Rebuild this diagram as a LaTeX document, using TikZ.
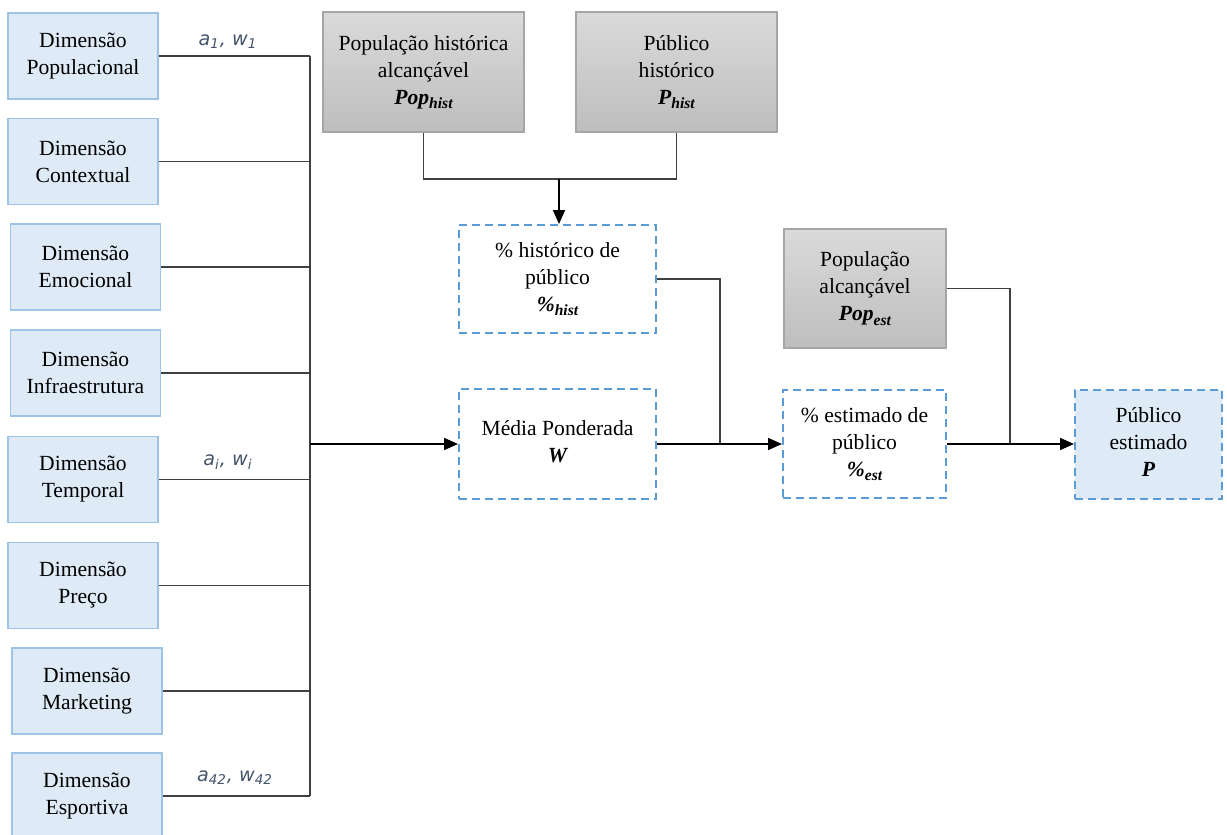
\documentclass[tikz,border=0pt]{standalone}
\usepackage{fontspec}
\setmainfont{Liberation Serif}
\newfontfamily\labelfont{DejaVu Sans}
\usetikzlibrary{arrows.meta}
\definecolor{dimfill}{HTML}{DEEBF7}
\definecolor{dimborder}{HTML}{9DC3E6}
\definecolor{dashblue}{HTML}{5B9BD5}
\definecolor{graytop}{HTML}{DADADA}
\definecolor{graybot}{HTML}{BEBEBE}
\definecolor{grayborder}{HTML}{A6A6A6}
\definecolor{wire}{HTML}{404040}
\definecolor{labelcol}{HTML}{44546A}
\newcommand{\bi}[2]{{\bfseries\itshape #1\raisebox{-0.45ex}{\fontsize{7.8}{8}\selectfont #2}}}
\tikzset{
  txt/.style={align=center, inner sep=0pt, font=\fontsize{10.8}{13.5}\selectfont},
  dimbox/.style={txt, draw=dimborder, line width=0.6pt, fill=dimfill,
                 minimum width=75pt, minimum height=43pt},
  graybox/.style={txt, draw=grayborder, line width=0.6pt, top color=graytop,
                  bottom color=graybot},
  calcbox/.style={txt, draw=dashblue, line width=1pt, dash pattern=on 4pt off 2.5pt},
  wireline/.style={draw=wire, line width=0.6pt},
  flow/.style={draw=black, line width=0.9pt, -{Triangle[length=7pt,width=6pt]}},
  weight/.style={inner sep=0pt, text=labelcol,
                 font=\labelfont\itshape\fontsize{9.6}{11}\selectfont},
}
\begin{document}
\begin{tikzpicture}[x=0.5pt,y=-0.5pt]
\useasboundingbox (0,0) rectangle (1227,835);

% dimension boxes
\node[dimbox] (d1) at (83,56)    {Dimensão\\Populacional};
\node[dimbox] (d2) at (83,161.5) {Dimensão\\Contextual};
\node[dimbox] (d3) at (85.5,267) {Dimensão\\Emocional};
\node[dimbox] (d4) at (85.5,373) {Dimensão\\Infraestrutura};
\node[dimbox] (d5) at (83,479.5) {Dimensão\\Temporal};
\node[dimbox] (d6) at (83,585.5) {Dimensão\\Preço};
\node[dimbox] (d7) at (87,691)   {Dimensão\\Marketing};
\node[dimbox] (d8) at (87,796)   {Dimensão\\Esportiva};

% historical inputs
\node[graybox, minimum width=100.5pt, minimum height=60pt] (ph) at (423.5,72)
  {População histórica\\alcançável\\\bi{Pop}{hist}};
\node[graybox, minimum width=100.5pt, minimum height=60pt] (pub) at (676.5,72)
  {Público\\histórico\\\bi{P}{hist}};

% computed quantities
\node[calcbox, minimum width=98.5pt, minimum height=54pt] (hist) at (557.5,279)
  {\% histórico de\\público\\\bi{\%}{hist}};
\node[calcbox, minimum width=98.5pt, minimum height=55pt] (mp) at (557.5,444)
  {Média Ponderada\\\bi{W}{}};
\node[calcbox, minimum width=81.5pt, minimum height=54pt] (est) at (864.5,444)
  {\% estimado de\\público\\\bi{\%}{est}};
\node[graybox, minimum width=81pt, minimum height=59.5pt] (popest) at (865,288.5)
  {População\\alcançável\\\bi{Pop}{est}};
\node[calcbox, fill=dimfill, minimum width=73.5pt, minimum height=54.5pt] (pest) at (1148.5,444)
  {Público\\estimado\\\bi{P}{}};

% weighting bus
\coordinate (bus) at (310,444);
\foreach \d in {d1,d2,d3,d4,d5,d6,d7,d8}
  \draw[wireline] (\d.east) -- (\d.east -| bus);
\draw[wireline] (d1.east -| bus) -- (d8.east -| bus);
\draw[flow] (bus) -- (mp.west);

\node[weight] (w1) at (228,42)  {a\textsubscript{1}, w\textsubscript{1}};
\node[weight] (wi) at (228,462) {a\textsubscript{i}, w\textsubscript{i}};
\node[weight] (wn) at (235,778) {a\textsubscript{42}, w\textsubscript{42}};

% historical ratio
\coordinate (merge) at (559,179);
\draw[wireline] (ph.south) |- (merge) -| (pub.south);
\draw[flow] (merge) -- (merge |- hist.north);

% estimated share
\coordinate (j1) at (720,444);
\draw[wireline] (hist.east) -| (j1);
\draw[flow] (mp.east) -- (est.west);

% estimated public
\coordinate (j2) at (1010,444);
\draw[wireline] (popest.east) -| (j2);
\draw[flow] (est.east) -- (pest.west);
\end{tikzpicture}
\end{document}
